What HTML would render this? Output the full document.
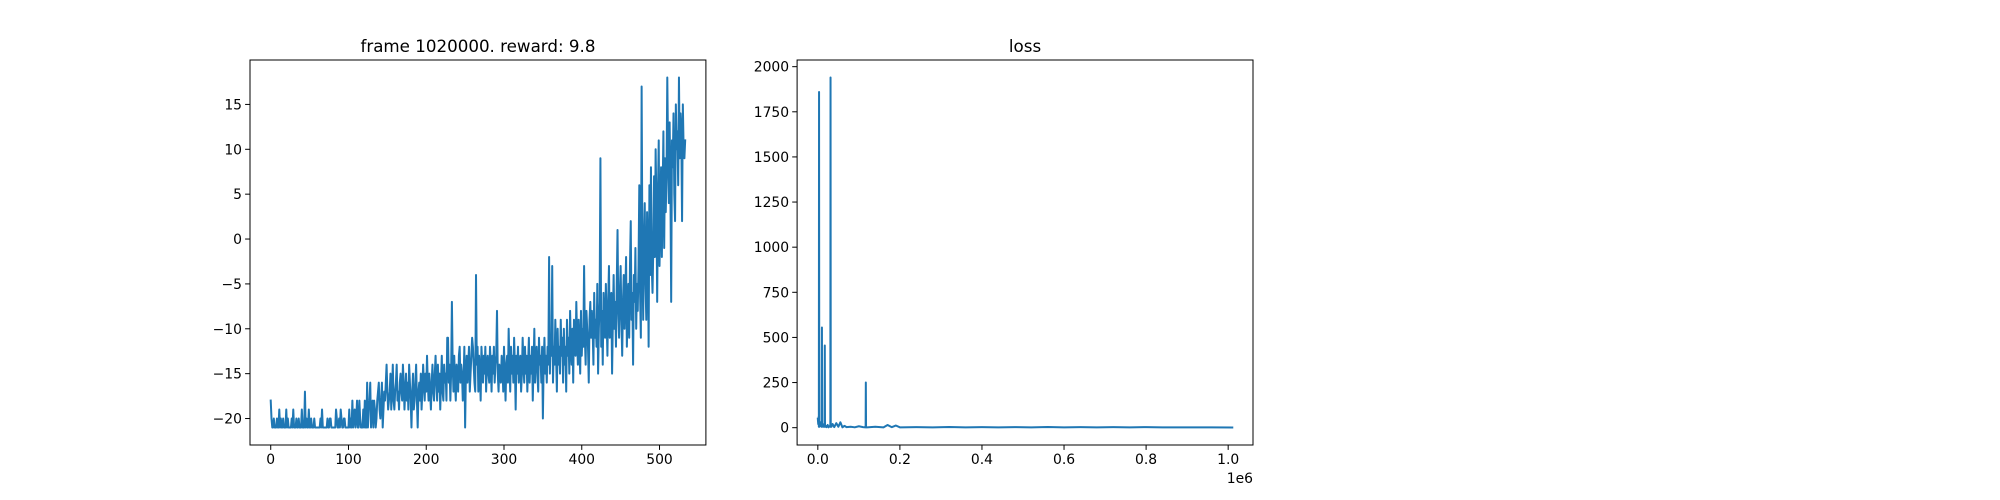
<!DOCTYPE html>
<html><head><meta charset="utf-8"><style>
html,body{margin:0;padding:0;background:#fff;}
svg{display:block;font-family:"DejaVu Sans","Liberation Sans",sans-serif;}
</style></head><body>
<svg id="fig" width="2000" height="500" viewBox="0 0 2000 500" xmlns="http://www.w3.org/2000/svg"></svg>
<script>
const rewardValues = [
-18,-20,-21,-21,-20,-21,-21,-21,-20,-21,-21,-19,-21,-20,-21,-21,-20,-21,-21,-21,-19,-21,-20,-21,-21,-21,-21,-20,-21,
-19,-21,-21,-21,-20,-21,-21,-20,-21,-21,-21,-19,-21,-21,-21,-17,-21,-20,-21,-21,-19,-21,-21,-20,-21,-21,-21,-20,-21,-21,
-21,-21,-21,-21,-21,-20,-21,-19,-21,-21,-21,-21,-21,-21,-20,-21,-21,-20,-20,-21,-21,-21,-21,-21,-21,-19,-20,-21,-21,
-20,-21,-19,-20,-21,-21,-20,-20,-21,-21,-21,-21,-21,-19,-21,-20,-21,-18,-21,-20,-19,-21,-20,-18,-21,-21,-18,-20,-21,-21,
-21,-19,-21,-18,-21,-21,-16,-21,-19,-18,-16,-21,-19,-18,-21,-18,-19,-21,-20,-18,-17,-16,-19,-20,-18,-16,-21,-19,-17,
-18,-16,-14,-17,-19,-18,-17,-15,-19,-17,-14,-18,-19,-17,-16,-14,-18,-17,-19,-16,-15,-17,-18,-14,-16,-19,-17,-15,-18,-16,
-19,-14,-16,-18,-21,-17,-15,-19,-18,-16,-14,-18,-21,-17,-16,-18,-15,-19,-17,-14,-16,-18,-15,-17,-13,-16,-18,-15,-17,
-19,-16,-14,-17,-18,-15,-13,-16,-18,-14,-17,-15,-19,-16,-13,-17,-18,-14,-16,-15,-18,-11,-11,-16,-14,-18,-15,-7,-14,-17,
-13,-16,-18,-14,-15,-17,-13,-12,-16,-14,-15,-18,-16,-12,-21,-15,-13,-16,-14,-12,-17,-15,-13,-11,-12,-14,-16,-17,-4,
-14,-12,-17,-13,-15,-18,-12,-14,-16,-13,-15,-12,-17,-14,-13,-15,-16,-12,-14,-17,-13,-15,-12,-16,-14,-13,-8,-15,-17,-14,
-15,-16,-13,-14,-17,-12,-15,-18,-14,-13,-16,-10,-14,-17,-12,-15,-13,-16,-11,-14,-19,-13,-15,-12,-16,-14,-13,-17,-15,
-11,-14,-16,-12,-15,-13,-17,-14,-11,-16,-13,-15,-12,-18,-14,-10,-16,-13,-12,-15,-17,-11,-14,-13,-16,-12,-20,-14,-11,-15,
-13,-16,-12,-14,-2,-15,-11,-13,-3,-16,-12,-14,-9,-13,-17,-10,-14,-12,-15,-9,-13,-11,-16,-10,-14,-12,-17,-9,-13,
-11,-15,-8,-12,-14,-10,-16,-9,-12,-13,-7,-11,-14,-9,-12,-15,-8,-13,-10,-12,-3,-11,-14,-8,-10,-12,-16,-9,-7,-11,
-8,-10,-14,-6,-11,-9,-12,-5,-15,-10,-7,9,-12,-8,-14,-6,-10,-11,-5,-9,-13,-7,-3,-11,-8,-6,-15,-9,-4,
-10,-7,-12,-5,1,-8,-11,-6,-3,-9,-13,-7,-4,-10,-6,-2,-12,-8,-5,-11,-3,2,-9,-6,-14,-4,-7,-1,-10,-5,
-8,-3,6,-6,-11,17,-2,-9,0,4,-5,-9,3,-1,-12,6,-4,8,-3,-6,-1,7,-2,10,4,-7,5,11,-3,
2,8,-2,5,12,-1,9,3,7,18,10,4,13,6,-7,11,8,14,5,2,15,10,12,6,18,9,14,12,2,15,10,9,11];
const rewardXTicks = [0,100,200,300,400,500];
const rewardYTicks = [-20,-15,-10,-5,0,5,10,15];
const lossFrames = [0,1000,2000,2500,3000,3500,4000,6000,8000,9500,10000,10500,12000,14000,16500,17000,17500,19000,21000,24000,26000,28000,30500,31000,31500,33000,36000,40000,45000,50000,55000,60000,65000,70000,80000,90000,100000,110000,116500,117000,117500,120000,140000,160000,170000,180000,190000,200000,240000,280000,320000,360000,400000,440000,480000,520000,560000,600000,640000,680000,720000,760000,800000,840000,880000,920000,960000,1010000];
const lossValues = [50,20,60,5,1860,5,5,30,10,5,555,5,20,5,5,455,5,10,3,15,2,8,5,1940,5,5,20,3,25,5,30,2,10,3,5,2,8,3,2,250,2,2,5,2,15,3,12,2,3,2,4,2,3,2,3,2,4,2,3,2,3,2,3,2,2,2,2,1];
const lossXTicks = [0,200000,400000,600000,800000,1000000];
const lossXTickLabels = ["0.0","0.2","0.4","0.6","0.8","1.0"];
const lossYTicks = [0,250,500,750,1000,1250,1500,1750,2000];

const NS="http://www.w3.org/2000/svg";
const svg=document.getElementById('fig');
function el(tag,attrs,parent){const e=document.createElementNS(NS,tag);for(const k in attrs)e.setAttribute(k,attrs[k]);(parent||svg).appendChild(e);return e;}
function fmt(v){return v<0?'\u2212'+(-v):String(v);}

function drawAxes(o){
  const g=el('g',{});
  
  
  const L=o.left,R=o.left+455.9,T=60,B=445;
  const xmin=o.xlo-(o.xhi-o.xlo)*0.05,xmax=o.xhi+(o.xhi-o.xlo)*0.05;
  const ymin=o.ylo-(o.yhi-o.ylo)*0.05,ymax=o.yhi+(o.yhi-o.ylo)*0.05;
  const sx=v=>L+(v-xmin)/(xmax-xmin)*(R-L);
  const sy=v=>B-(v-ymin)/(ymax-ymin)*(B-T);
  const pts=o.xs.map((x,i)=>sx(x).toFixed(2)+','+sy(o.ys[i]).toFixed(2)).join(' ');
  const line=el('polyline',{points:pts,fill:'none',stroke:'#1f77b4','stroke-width':2,'stroke-linejoin':'round','stroke-linecap':'square'},g);
  
  
  const frame=el('rect',{x:L,y:T,width:R-L,height:B-T,fill:'none',stroke:'#000','stroke-width':1},g);
  
  
  o.xt.forEach((t,i)=>{
    const x=sx(t);
    el('line',{x1:x,x2:x,y1:B,y2:B+4.9,stroke:'#000','stroke-width':1},g);
    const tx=el('text',{x:x,y:B+19,'font-size':13.9,'text-anchor':'middle',fill:'#000'},g);
    tx.textContent=o.xl?o.xl[i]:fmt(t);
    
    
  });
  o.yt.forEach(t=>{
    const y=sy(t);
    el('line',{x1:L-4.9,x2:L,y1:y,y2:y,stroke:'#000','stroke-width':1},g);
    const tx=el('text',{x:L-8,y:y+5,'font-size':13.9,'text-anchor':'end',fill:'#000'},g);
    tx.textContent=fmt(t);
    
    
  });
  const ti=el('text',{x:(L+R)/2,y:52,'font-size':16.7,'text-anchor':'middle',fill:'#000'},g);
  ti.textContent=o.title;
  
  
  if(o.offset){
    const ot=el('text',{x:R,y:B+38,'font-size':13.9,'text-anchor':'end',fill:'#000'},g);
    ot.textContent=o.offset;
    
    
  }
}
drawAxes({name:'reward-chart',left:250,xs:rewardValues.map((v,i)=>i),ys:rewardValues,
  xlo:0,xhi:rewardValues.length-1,ylo:Math.min(...rewardValues),yhi:Math.max(...rewardValues),
  xt:rewardXTicks,yt:rewardYTicks,title:'frame 1020000. reward: 9.8'});
drawAxes({name:'loss-chart',left:797.1,xs:lossFrames,ys:lossValues,
  xlo:Math.min(...lossFrames),xhi:Math.max(...lossFrames),ylo:Math.min(...lossValues),yhi:Math.max(...lossValues),
  xt:lossXTicks,xl:lossXTickLabels,yt:lossYTicks,title:'loss',offset:'1e6'});
</script>
</body></html>
